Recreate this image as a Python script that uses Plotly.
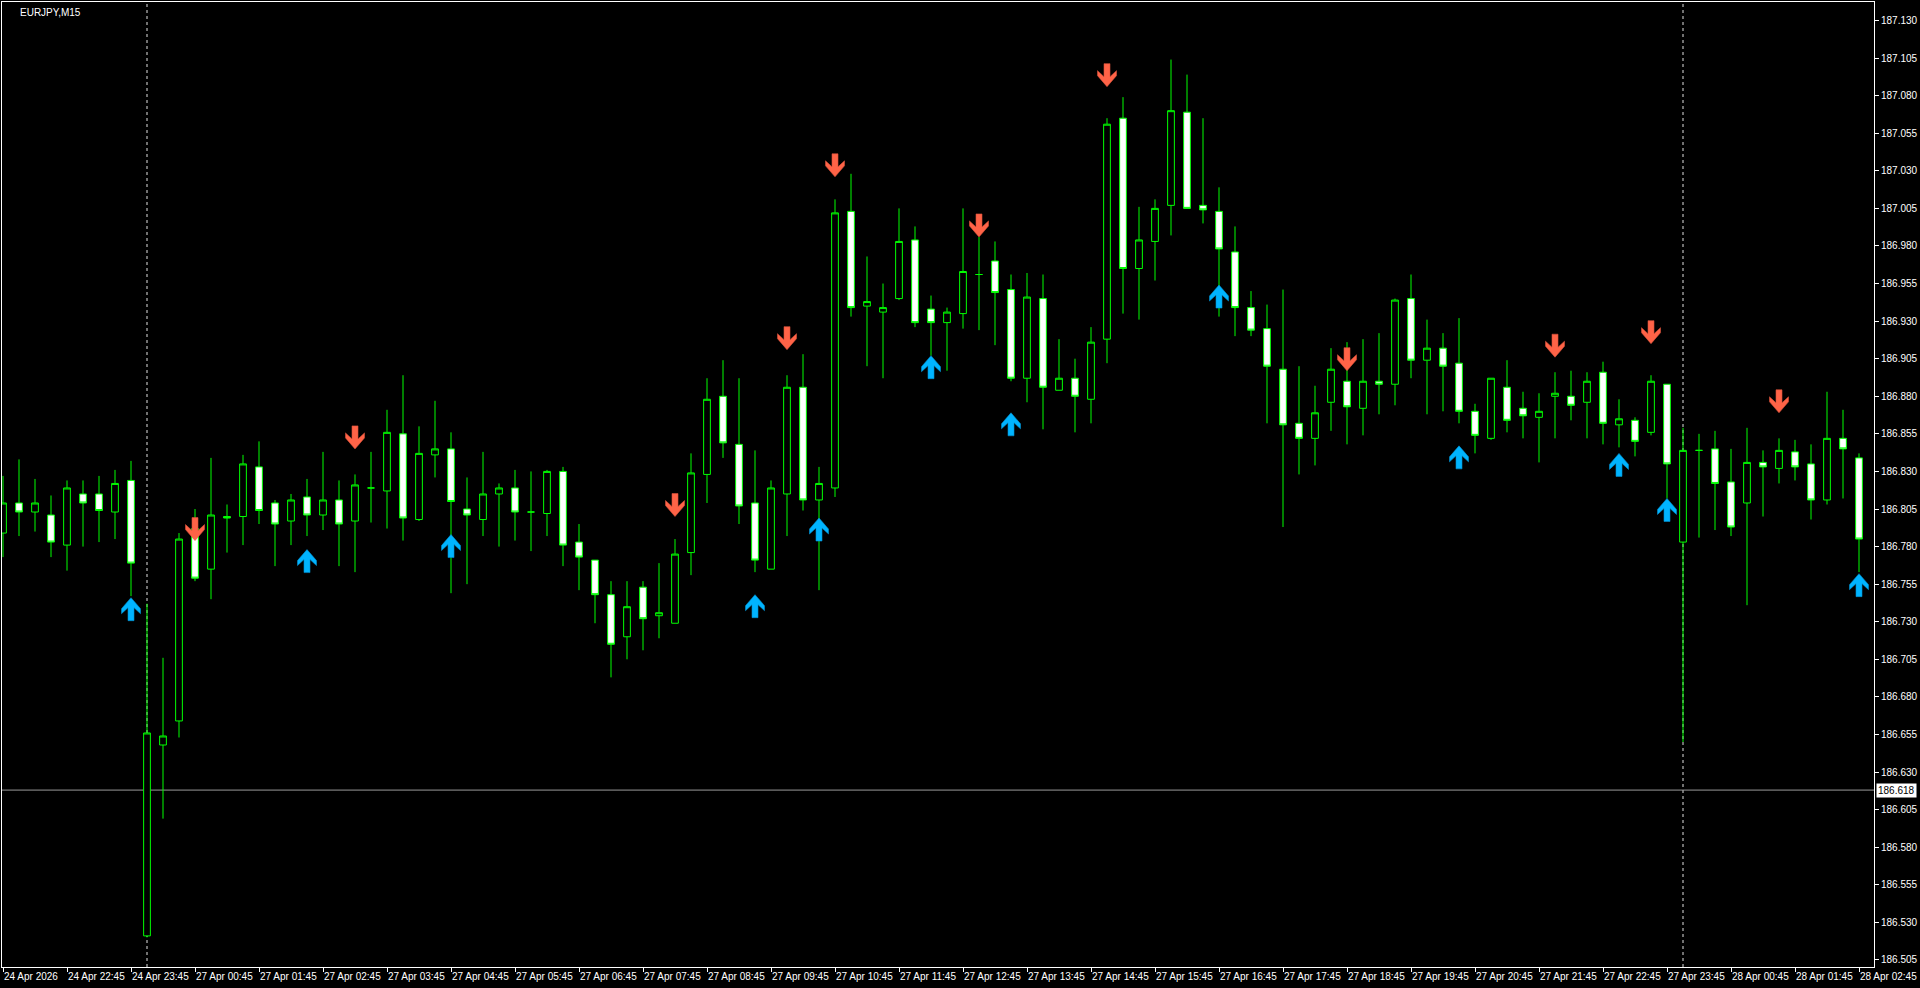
import plotly.graph_objects as go

# ---- data: EURJPY M15, bar index 0 = 24 Apr 21:45 ----
opens = [186.789, 186.809, 186.803, 186.801, 186.781, 186.815, 186.815, 186.803, 186.824, 186.521,
         186.648, 186.664, 186.792, 186.765, 186.800, 186.800, 186.833, 186.809, 186.797, 186.813,
         186.801, 186.811, 186.797, 186.819, 186.817, 186.855, 186.798, 186.841, 186.845, 186.805,
         186.798, 186.815, 186.819, 186.803, 186.802, 186.830, 186.783, 186.771, 186.748, 186.720,
         186.753, 186.734, 186.729, 186.776, 186.828, 186.880, 186.848, 186.809, 186.765, 186.815,
         186.886, 186.811, 186.819, 187.003, 186.940, 186.936, 186.945, 186.984, 186.938, 186.929,
         186.935, 186.961, 186.970, 186.951, 186.892, 186.945, 186.884, 186.892, 186.878, 186.918,
         187.065, 186.965, 186.983, 187.007, 187.069, 187.007, 187.003, 186.976, 186.939, 186.925,
         186.898, 186.862, 186.852, 186.876, 186.890, 186.872, 186.890, 186.888, 186.945, 186.904,
         186.912, 186.902, 186.870, 186.852, 186.886, 186.872, 186.866, 186.880, 186.880, 186.876,
         186.896, 186.861, 186.864, 186.856, 186.888, 186.783, 186.844, 186.845, 186.823, 186.809,
         186.836, 186.832, 186.843, 186.835, 186.811, 186.852, 186.839]
highs = [186.827, 186.838, 186.825, 186.814, 186.824, 186.824, 186.827, 186.831, 186.837, 186.742,
         186.706, 186.789, 186.805, 186.839, 186.808, 186.841, 186.850, 186.811, 186.815, 186.825,
         186.843, 186.824, 186.828, 186.843, 186.871, 186.894, 186.860, 186.877, 186.856, 186.826,
         186.843, 186.822, 186.831, 186.830, 186.831, 186.833, 186.795, 186.771, 186.757, 186.757,
         186.757, 186.769, 186.785, 186.842, 186.892, 186.904, 186.892, 186.844, 186.824, 186.894,
         186.908, 186.833, 187.011, 187.028, 186.973, 186.955, 187.005, 186.993, 186.947, 186.939,
         187.005, 186.986, 186.983, 186.961, 186.962, 186.961, 186.918, 186.905, 186.926, 187.065,
         187.079, 187.006, 187.011, 187.104, 187.094, 187.065, 187.019, 186.993, 186.950, 186.941,
         186.951, 186.900, 186.887, 186.912, 186.916, 186.918, 186.922, 186.945, 186.961, 186.931,
         186.922, 186.932, 186.875, 186.892, 186.904, 186.883, 186.882, 186.896, 186.897, 186.896,
         186.903, 186.878, 186.866, 186.894, 186.888, 186.859, 186.855, 186.857, 186.845, 186.859,
         186.844, 186.852, 186.851, 186.848, 186.883, 186.871, 186.842]
lows = [186.773, 186.787, 186.790, 186.773, 186.764, 186.780, 186.783, 186.785, 186.747, 186.520,
        186.599, 186.653, 186.757, 186.745, 186.776, 186.781, 186.795, 186.767, 186.781, 186.787,
        186.791, 186.767, 186.763, 186.796, 186.792, 186.784, 186.797, 186.826, 186.749, 186.755,
        186.787, 186.780, 186.784, 186.777, 186.787, 186.767, 186.751, 186.729, 186.693, 186.705,
        186.711, 186.719, 186.729, 186.761, 186.809, 186.839, 186.795, 186.763, 186.765, 186.787,
        186.804, 186.751, 186.813, 186.933, 186.900, 186.892, 186.944, 186.926, 186.907, 186.897,
        186.925, 186.924, 186.914, 186.890, 186.876, 186.858, 186.884, 186.856, 186.862, 186.902,
        186.935, 186.931, 186.957, 186.987, 187.005, 186.995, 186.933, 186.920, 186.920, 186.862,
        186.793, 186.828, 186.834, 186.857, 186.848, 186.854, 186.868, 186.874, 186.892, 186.868,
        186.870, 186.862, 186.842, 186.851, 186.856, 186.852, 186.836, 186.852, 186.864, 186.852,
        186.848, 186.846, 186.840, 186.854, 186.812, 186.650, 186.786, 186.791, 186.787, 186.741,
        186.800, 186.822, 186.824, 186.798, 186.808, 186.812, 186.763]
closes = [186.809, 186.803, 186.809, 186.783, 186.819, 186.809, 186.804, 186.822, 186.769, 186.656,
          186.654, 186.785, 186.759, 186.801, 186.799, 186.835, 186.804, 186.795, 186.811, 186.801,
          186.811, 186.795, 186.821, 186.819, 186.856, 186.799, 186.842, 186.845, 186.810, 186.801,
          186.815, 186.819, 186.803, 186.803, 186.830, 186.781, 186.773, 186.748, 186.715, 186.740,
          186.732, 186.736, 186.775, 186.829, 186.878, 186.849, 186.807, 186.771, 186.819, 186.886,
          186.811, 186.822, 187.002, 186.939, 186.943, 186.939, 186.983, 186.929, 186.929, 186.936,
          186.963, 186.961, 186.949, 186.892, 186.946, 186.886, 186.892, 186.880, 186.916, 187.061,
          186.965, 186.984, 187.005, 187.070, 187.005, 187.004, 186.978, 186.939, 186.924, 186.900,
          186.861, 186.852, 186.869, 186.898, 186.873, 186.890, 186.888, 186.944, 186.904, 186.912,
          186.900, 186.870, 186.854, 186.892, 186.864, 186.867, 186.870, 186.882, 186.874, 186.890,
          186.862, 186.865, 186.850, 186.890, 186.835, 186.844, 186.844, 186.822, 186.793, 186.836,
          186.833, 186.844, 186.833, 186.811, 186.852, 186.845, 186.785]

# signal arrows (bar index, price of arrow tip)
sell_bars = [12, 22, 42, 49, 52, 61, 69, 84, 97, 103, 111]
sell_prices = [186.784, 186.845, 186.800, 186.911, 187.026, 186.986, 187.086, 186.897, 186.906, 186.915, 186.869]
buy_bars = [8, 19, 28, 47, 51, 58, 63, 76, 91, 101, 104, 116]
buy_prices = [186.746, 186.778, 186.788, 186.748, 186.799, 186.907, 186.869, 186.954, 186.847, 186.842, 186.812, 186.762]

# time axis labels (every 4 bars)
tick_bars = list(range(0, 117, 4))
tick_labels = ["24 Apr 2026", "24 Apr 22:45", "24 Apr 23:45"] + \
              ["27 Apr %02d:45" % h for h in range(24)] + \
              ["28 Apr 00:45", "28 Apr 01:45", "28 Apr 02:45"]

day_separators = [9, 105]
hline_price = 186.618
symbol_label = "EURJPY,M15"

# ---- figure ----
bars = list(range(len(opens)))
FG = "#ffffff"
FONT = "Liberation Sans, Arial, sans-serif"

fig = go.Figure()
fig.add_trace(go.Candlestick(
    x=bars, open=opens, high=highs, low=lows, close=closes,
    increasing=dict(line=dict(color="#00ff00", width=1), fillcolor="#000000"),
    decreasing=dict(line=dict(color="#00ff00", width=1), fillcolor="#ffffff"),
    whiskerwidth=0, showlegend=False, hoverinfo="skip",
))

shapes = []
for b in day_separators:
    shapes.append(dict(type="line", xref="x", yref="paper", x0=b, x1=b, y0=0, y1=1,
                       line=dict(color="#e0e0e0", width=1, dash="3px,3px"), layer="below"))
shapes.append(dict(type="line", xref="paper", yref="y", x0=0, x1=1, y0=hline_price, y1=hline_price,
                   line=dict(color="#9a9a9a", width=1), layer="below"))

up_path = "M0,0 L9.5,-11 L9.5,-16 L3,-10 L3,-23 L-3,-23 L-3,-10 L-9.5,-16 L-9.5,-11 Z"
dn_path = "M0,0 L9.5,11 L9.5,16 L3,10 L3,23 L-3,23 L-3,10 L-9.5,16 L-9.5,11 Z"
for b, p in zip(sell_bars, sell_prices):
    shapes.append(dict(type="path", xref="x", yref="y", xsizemode="pixel", ysizemode="pixel",
                       xanchor=b, yanchor=p, path=dn_path,
                       fillcolor="#ff6347", line=dict(color="#d9533a", width=0.6), layer="above"))
for b, p in zip(buy_bars, buy_prices):
    shapes.append(dict(type="path", xref="x", yref="y", xsizemode="pixel", ysizemode="pixel",
                       xanchor=b, yanchor=p, path=up_path,
                       fillcolor="#00b4ff", line=dict(color="#0090d0", width=0.6), layer="above"))

annotations = [
    dict(xref="paper", yref="paper", x=0.0085, y=1, xanchor="left", yanchor="top", yshift=-3,
         text=symbol_label, showarrow=False, font=dict(color=FG, size=10, family=FONT)),
    dict(xref="paper", yref="y", x=1, y=hline_price, xanchor="left", yanchor="middle", xshift=2,
         text=str(hline_price), showarrow=False, bgcolor="#ffffff", borderpad=1,
         font=dict(color="#000000", size=10, family=FONT)),
]

fig.update_layout(
    width=1920, height=988,
    paper_bgcolor="#000000", plot_bgcolor="#000000",
    margin=dict(l=2, r=46, t=2, b=21),
    boxgap=0.4,
    shapes=shapes, annotations=annotations,
    font=dict(family=FONT, size=10, color=FG),
    xaxis=dict(
        range=[-0.0625, 116.9375], rangeslider=dict(visible=False), type="linear",
        tickmode="array", tickvals=tick_bars, ticktext=tick_labels, tickangle=0,
        automargin=False,
        ticks="outside", ticklen=4, tickcolor=FG, ticklabelposition="outside right",
        showgrid=False, zeroline=False, showline=True, mirror=True, linecolor=FG, linewidth=1,
        tickfont=dict(color=FG, size=10, family=FONT),
    ),
    yaxis=dict(
        side="right", range=[186.5003, 187.1423], automargin=False,
        tick0=186.505, dtick=0.025, tickformat=".3f",
        ticks="outside", ticklen=4, tickcolor=FG,
        showgrid=False, zeroline=False, showline=True, mirror=True, linecolor=FG, linewidth=1,
        tickfont=dict(color=FG, size=10, family=FONT),
    ),
)

fig.write_html("out.html", config={"displayModeBar": False},
               post_script="document.body.style.margin='0';document.body.style.overflow='hidden';")
